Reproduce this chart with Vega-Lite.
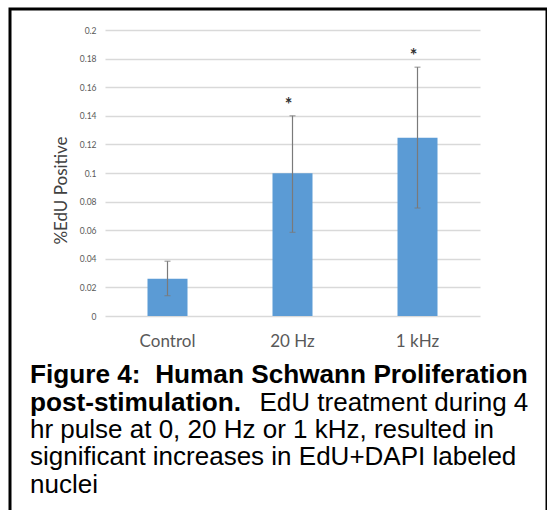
{
  "$schema": "https://vega.github.io/schema/vega-lite/v6.json",
  "autosize": {"type": "none"},
  "padding": {"left": 10, "top": 9, "right": 0, "bottom": 0},
  "width": 537,
  "height": 510,
  "background": "white",
  "view": {"stroke": "black", "strokeWidth": 3, "fill": "white"},
  "title": {
    "text": ["Figure 4:\u00a0 Human Schwann Proliferation", "post-stimulation."],
    "subtitle": [
      "hr pulse at 0, 20 Hz or 1 kHz, resulted in",
      "significant increases in EdU+DAPI labeled",
      "nuclei"
    ],
    "orient": "bottom",
    "anchor": "start",
    "frame": "group",
    "offset": -157,
    "dx": 20,
    "font": "Liberation Sans",
    "fontSize": 26.2,
    "fontWeight": "bold",
    "color": "black",
    "lineHeight": 27.5,
    "subtitleFont": "Liberation Sans",
    "subtitleFontSize": 26,
    "subtitleFontWeight": "normal",
    "subtitleColor": "black",
    "subtitleLineHeight": 27.8,
    "subtitlePadding": 1
  },
  "data": {
    "values": [
      {"group": "Control", "mean": 0.026, "lo": 0.0142, "hi": 0.0383, "sig": ""},
      {"group": "20 Hz", "mean": 0.0998, "lo": 0.0585, "hi": 0.140, "sig": "*"},
      {"group": "1 kHz", "mean": 0.1247, "lo": 0.0755, "hi": 0.174, "sig": "*"}
    ]
  },
  "encoding": {
    "x": {
      "field": "group",
      "type": "nominal",
      "sort": ["Control", "20 Hz", "1 kHz"],
      "scale": {"type": "band", "range": [95, 470], "paddingInner": 0.68, "paddingOuter": 0.34},
      "axis": {
        "title": "EdU treatment during 4",
        "titleX": 249,
        "titleY": 94.5,
        "titleAlign": "left",
        "titleBaseline": "alphabetic",
        "titleFont": "Liberation Sans",
        "titleFontSize": 26,
        "titleFontWeight": "normal",
        "titleColor": "black",
        "domain": false,
        "ticks": false,
        "grid": false,
        "offset": -203,
        "labelPadding": 17,
        "labelAngle": 0,
        "labelFont": "Lato",
        "labelFontSize": 17,
        "labelColor": "#595959"
      }
    }
  },
  "layer": [
    {
      "mark": {"type": "bar", "color": "#5b9bd5"},
      "encoding": {
        "y": {
          "field": "mean",
          "type": "quantitative",
          "scale": {"domain": [0, 0.2], "range": [307, 21], "nice": false, "zero": true},
          "axis": {
            "title": "%EdU Positive",
            "offset": -90,
            "ticks": false,
            "domain": false,
            "labelPadding": 4,
            "values": [0, 0.02, 0.04, 0.06, 0.08, 0.1, 0.12, 0.14, 0.16, 0.18, 0.2],
            "format": "~g",
            "grid": true,
            "gridColor": "#d9d9d9",
            "gridWidth": 1.5,
            "labelFont": "Lato",
            "labelFontSize": 8.5,
            "labelColor": "#595959",
            "titleFont": "Lato",
            "titleFontSize": 17,
            "titleFontWeight": "normal",
            "titleColor": "#404040",
            "titlePadding": 9,
            "titleY": 181
          }
        }
      }
    },
    {
      "mark": {"type": "rule", "color": "#7a7a7a", "strokeWidth": 1.2},
      "encoding": {
        "y": {"field": "lo", "type": "quantitative"},
        "y2": {"field": "hi"}
      }
    },
    {
      "mark": {"type": "tick", "color": "#7a7a7a", "size": 6, "thickness": 1.2, "orient": "horizontal"},
      "encoding": {"y": {"field": "lo", "type": "quantitative"}}
    },
    {
      "mark": {"type": "tick", "color": "#7a7a7a", "size": 6, "thickness": 1.2, "orient": "horizontal"},
      "encoding": {"y": {"field": "hi", "type": "quantitative"}}
    },
    {
      "mark": {"type": "text", "font": "Lato", "fontSize": 18, "fontWeight": "bold", "color": "#333333", "dy": -10, "dx": -4, "baseline": "middle"},
      "encoding": {
        "y": {"field": "hi", "type": "quantitative"},
        "text": {"field": "sig", "type": "nominal"}
      }
    }
  ]
}
